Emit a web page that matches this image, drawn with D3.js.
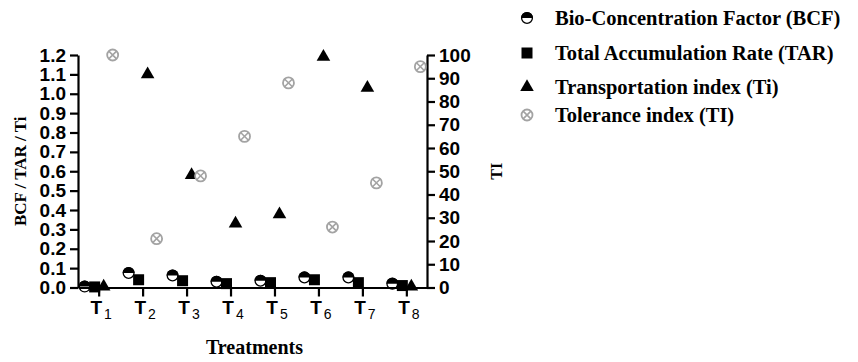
<!DOCTYPE html>
<html>
<head>
<meta charset="utf-8">
<script src="https://cdn.jsdelivr.net/npm/d3@7"></script>
<style>
  body { margin: 0; background: #fff; }
  svg { display: block; }
</style>
</head>
<body>
<div id="chart"></div>
<script>
// treatments T1..T8 (subscript numbers)
const treatments = ["1", "2", "3", "4", "5", "6", "7", "8"];
const bcf = [0.005, 0.075, 0.062, 0.03, 0.035, 0.052, 0.052, 0.02];
const tar = [0.003, 0.04, 0.035, 0.02, 0.025, 0.04, 0.025, 0.01];
const transIdx = [0.005, 1.10, 0.58, 0.33, 0.378, 1.19, 1.03, 0.005];
const tolIdx = [100, 21, 48, 65, 88, 26, 45, 95];
const leftTicks = [0, 0.1, 0.2, 0.3, 0.4, 0.5, 0.6, 0.7, 0.8, 0.9, 1.0, 1.1, 1.2];
const rightTicks = [0, 10, 20, 30, 40, 50, 60, 70, 80, 90, 100];
const legendLabels = [
  "Bio-Concentration Factor (BCF)",
  "Total Accumulation Rate (TAR)",
  "Transportation index (Ti)",
  "Tolerance index (TI)"
];

const width = 858, height = 362;
const plotL = 78, plotR = 427, plotT = 55, plotB = 287.5;
const grey = "#a3a3a3";

const svg = d3.select("#chart").append("svg")
  .attr("width", width)
  .attr("height", height);

const x = d3.scalePoint().domain(treatments).range([plotL, plotR]).padding(0.47);
const y = d3.scaleLinear().domain([0, 1.2]).range([plotB, plotT]);
const y2 = d3.scaleLinear().domain([0, 100]).range([plotB, plotT]);

function styleAxis(g) {
  g.select(".domain").attr("stroke", "#000").attr("stroke-width", 2.2);
  g.selectAll(".tick line").attr("stroke", "#000").attr("stroke-width", 2.2);
  g.selectAll(".tick text")
    .attr("fill", "#000")
    .style("font-family", "'Liberation Sans', Arial, sans-serif")
    .style("font-weight", "bold")
    .style("font-size", "19px");
}

// left axis
svg.append("g")
  .attr("transform", `translate(${plotL},0)`)
  .call(d3.axisLeft(y).tickValues(leftTicks).tickFormat(d3.format(".1f")).tickSize(8).tickSizeOuter(0).tickPadding(4))
  .call(styleAxis);

// right axis
svg.append("g")
  .attr("transform", `translate(${plotR},0)`)
  .call(d3.axisRight(y2).tickValues(rightTicks).tickSize(8).tickSizeOuter(0).tickPadding(4))
  .call(styleAxis);

// bottom axis
const xAxis = svg.append("g")
  .attr("transform", `translate(0,${plotB})`)
  .call(d3.axisBottom(x).tickSize(9).tickSizeOuter(0).tickFormat(""))
  .call(styleAxis);

xAxis.selectAll(".tick").append("text")
  .attr("x", 2)
  .attr("y", 26)
  .attr("text-anchor", "middle")
  .attr("fill", "#000")
  .style("font-family", "'Liberation Sans', Arial, sans-serif")
  .each(function(d) {
    const t = d3.select(this);
    t.append("tspan").text("T").style("font-weight", "bold").style("font-size", "19px");
    t.append("tspan").text(d).attr("dy", 5).attr("dx", 2).style("font-size", "14px");
  });

// axis titles
const serif = "'Liberation Serif', 'Times New Roman', serif";
svg.append("text")
  .attr("x", (plotL + plotR) / 2 + 2)
  .attr("y", 354)
  .attr("text-anchor", "middle")
  .style("font-family", serif)
  .style("font-weight", "bold")
  .style("font-size", "20px")
  .text("Treatments");

svg.append("text")
  .attr("transform", `translate(26,${(plotT + plotB) / 2}) rotate(-90)`)
  .attr("text-anchor", "middle")
  .style("font-family", serif)
  .style("font-weight", "bold")
  .style("font-size", "17px")
  .text("BCF / TAR / Ti");

svg.append("text")
  .attr("transform", `translate(502,${(plotT + plotB) / 2}) rotate(-90)`)
  .attr("text-anchor", "middle")
  .style("font-family", serif)
  .style("font-weight", "bold")
  .style("font-size", "16px")
  .text("TI");

// marker drawing helpers
const halfR = 6;
function drawHalf(g) {
  g.append("path")
    .attr("d", d3.arc()({ innerRadius: 0, outerRadius: halfR, startAngle: -Math.PI / 2, endAngle: Math.PI / 2 }))
    .attr("fill", "#000");
  g.append("circle").attr("r", halfR - 0.6).attr("fill", "none").attr("stroke", "#000").attr("stroke-width", 1.3);
}
function drawSquare(g) {
  g.append("path").attr("d", d3.symbol(d3.symbolSquare, 121)()).attr("fill", "#000");
}
function drawTriangle(g) {
  g.append("path").attr("d", d3.symbol(d3.symbolTriangle, 80)()).attr("fill", "#000");
}
function drawTol(g) {
  const r = 5.5;
  g.append("circle").attr("r", r).attr("fill", "#fff").attr("stroke", grey).attr("stroke-width", 1.8);
  const k = r * Math.SQRT1_2;
  g.append("path")
    .attr("d", `M${-k},${-k}L${k},${k}M${k},${-k}L${-k},${k}`)
    .attr("stroke", grey).attr("stroke-width", 1.6);
}

const series = [
  { values: bcf, scale: y, dx: -14, draw: drawHalf },
  { values: tar, scale: y, dx: -4, draw: drawSquare },
  { values: transIdx, scale: y, dx: 5, draw: drawTriangle },
  { values: tolIdx, scale: y2, dx: 14, draw: drawTol }
];

series.forEach(s => {
  svg.append("g").selectAll("g")
    .data(treatments)
    .join("g")
    .attr("transform", (d, i) => `translate(${x(d) + s.dx},${s.scale(s.values[i])})`)
    .each(function() { s.draw(d3.select(this)); });
});

// legend
const legendY = [18, 53, 87, 115];
const legend = svg.append("g");
legendLabels.forEach((label, i) => {
  const g = legend.append("g").attr("transform", `translate(527,${legendY[i]})`);
  series[i].draw(g);
  g.append("text")
    .attr("x", 28)
    .attr("dy", "0.35em")
    .style("font-family", serif)
    .style("font-weight", "bold")
    .style("font-size", "20.5px")
    .text(label);
});
</script>
</body>
</html>
